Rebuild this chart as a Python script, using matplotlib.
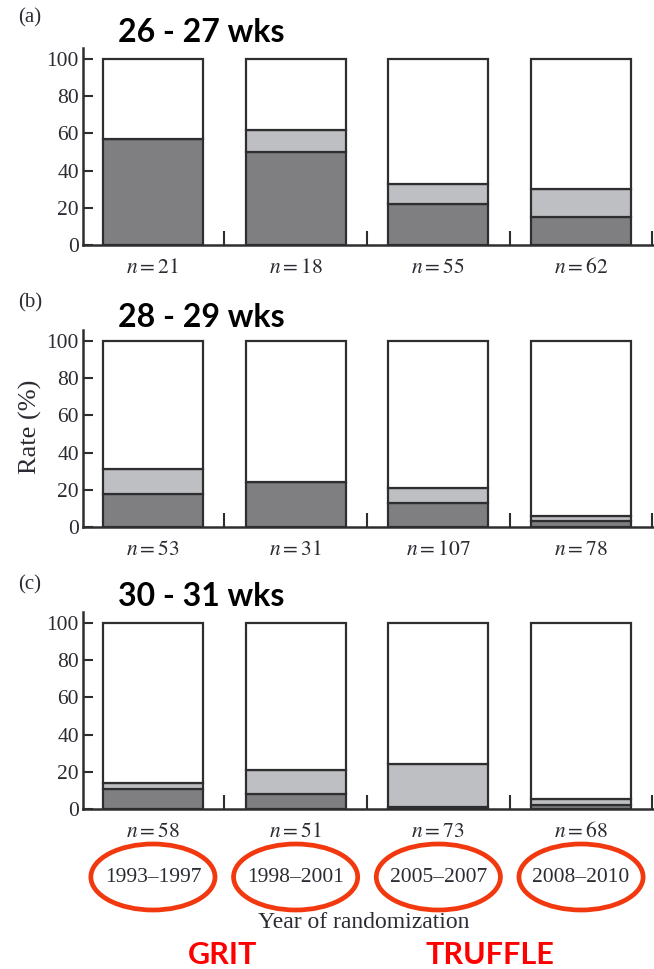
import numpy as np
import matplotlib
matplotlib.use('Agg')
import matplotlib.pyplot as plt
from matplotlib.patches import Ellipse
from matplotlib.transforms import blended_transform_factory

# --- data (rates in %) ---
periods = ['1993–1997', '1998–2001', '2005–2007', '2008–2010']
trials = ['GRIT', 'TRUFFLE']
panel_tags = ['(a)', '(b)', '(c)']
panel_titles = ['26 - 27 wks', '28 - 29 wks', '30 - 31 wks']

# dark = bottom segment, light = middle segment, white = rest up to 100
dark_a = [57, 50, 22, 15]
light_a = [0, 12, 11, 15]
n_a = [21, 18, 55, 62]

dark_b = [18, 24, 13, 3]
light_b = [13, 0, 8, 3]
n_b = [53, 31, 107, 78]

dark_c = [11, 8, 1, 2]
light_c = [3, 13, 23, 3.5]
n_c = [58, 51, 73, 68]

DARK = '#7f7f81'
LIGHT = '#bebfc2'
EDGE = '#2e2e30'
INK = '#2b2b33'
RED = '#f2380e'

plt.rcParams['font.family'] = ['Liberation Serif', 'DejaVu Serif']
plt.rcParams['mathtext.fontset'] = 'stix'

W, H = 654, 969
fig = plt.figure(figsize=(W / 100, H / 100), dpi=100)
fig.patch.set_facecolor('white')

panels = [(dark_a, light_a, n_a), (dark_b, light_b, n_b), (dark_c, light_c, n_c)]
zero_px = [245, 527, 809]     # y pixel of the zero line for each panel
tag_px = [18, 303, 585]
title_px = [33, 317, 597]
x = np.arange(len(periods))
axes = []

for i, (dark, light, ns) in enumerate(panels):
    dark = np.array(dark, dtype=float)
    light = np.array(light, dtype=float)
    white = 100 - dark - light
    ax = fig.add_axes([83 / W, 1 - zero_px[i] / H, 0.875, 197 / H])
    axes.append(ax)
    kw = dict(width=0.7, edgecolor=EDGE, linewidth=1.6, zorder=3)
    ax.bar(x, dark, color=DARK, **kw)
    ax.bar(x, light, bottom=dark, color=LIGHT, **kw)
    ax.bar(x, white, bottom=dark + light, color='white', **kw)

    ax.set_xlim(-0.49, 3.52)
    ax.set_ylim(0, 106)
    for s in ['top', 'right']:
        ax.spines[s].set_visible(False)
    for s in ['left', 'bottom']:
        ax.spines[s].set_linewidth(1.8)
        ax.spines[s].set_color(EDGE)
    ax.set_yticks([0, 20, 40, 60, 80, 100])
    ax.tick_params(axis='y', direction='in', length=7, width=1.5, color=EDGE,
                   labelsize=15.5, labelcolor=INK, pad=3)
    ax.set_xticks([0.5, 1.5, 2.5, 3.5])
    ax.set_xticklabels([])
    ax.tick_params(axis='x', direction='in', length=10, width=1.5, color=EDGE)

    for xi, n in zip(x, ns):
        ax.text(xi, -12.5, rf'$n = {n}$', ha='center', va='center',
                fontsize=15.5, color=INK, clip_on=False)

    fig.text(30 / W, 1 - tag_px[i] / H, panel_tags[i], ha='center', va='center',
             fontsize=15, color=INK)
    fig.text(118 / W, 1 - title_px[i] / H, panel_titles[i], ha='left', va='center',
             fontsize=23, fontweight='bold', family='Lato', color='black')

fig.text(30 / W, 1 - 427 / H, 'Rate (%)', rotation=90, ha='center', va='center',
         fontsize=19, color=INK)

# year labels circled in red under the bottom panel
axc = axes[-1]
tr = blended_transform_factory(axc.transData, fig.transFigure)
yy = 1 - 877 / H
for xi, p in zip(x, periods):
    axc.text(xi, yy, p, transform=tr, ha='center', va='center', fontsize=15.5,
             color=INK, clip_on=False)
    e = Ellipse((xi, yy), 0.87, 66 / H, transform=tr, fill=False,
                edgecolor=RED, linewidth=3.4, clip_on=False)
    axc.add_patch(e)

fig.text(364 / W, 1 - 923 / H, 'Year of randomization', ha='center', va='center',
         fontsize=17, color=INK)

trial_x = [223, 490]
for tx, t in zip(trial_x, trials):
    fig.text(tx / W, 1 - 955 / H, t, ha='center', va='center', fontsize=22,
             fontweight='bold', family='Lato', color='#ff0000')

fig.savefig('out.png', dpi=100, facecolor='white')
